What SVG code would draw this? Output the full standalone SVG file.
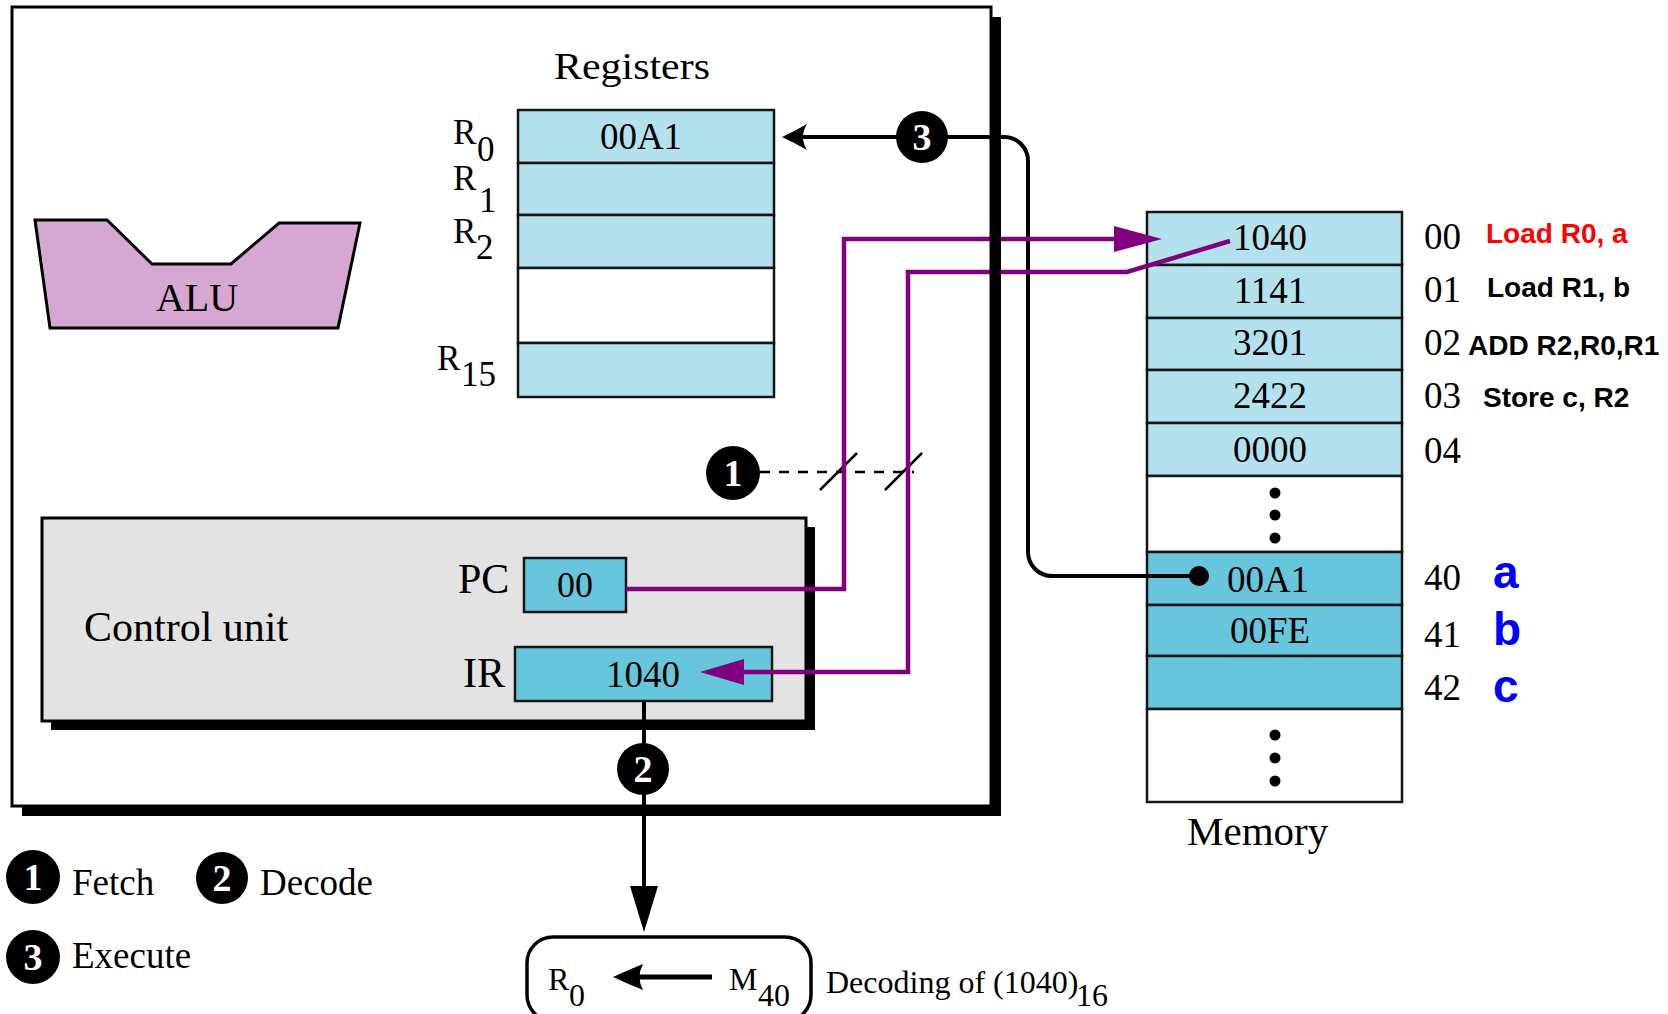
<svg xmlns="http://www.w3.org/2000/svg" width="1668" height="1014" viewBox="0 0 1668 1014">
<style>
.t{font-family:"Liberation Serif","Times New Roman",serif;fill:#000}
.b{font-family:"Liberation Sans",Arial,sans-serif;font-weight:bold}
.cell{stroke:#151515;stroke-width:2.5}
.lb{fill:#b3e2ee}
.db{fill:#68c6dc}
.wh{fill:#fff}
.pl{stroke:#800080;stroke-width:4.5;fill:none}
.blk{stroke:#000;fill:none}
.num{font-family:"Liberation Serif","Times New Roman",serif;font-weight:bold;font-size:38px;fill:#fff;text-anchor:middle}
.mid{text-anchor:middle}
</style>
<rect width="1668" height="1014" fill="#fff"/>

<g id="cpu">
  <rect x="22" y="17" width="979" height="799" fill="#000"/>
  <rect x="12" y="7" width="979" height="799" fill="#fff"/>
</g>

<g id="alu">
  <polygon points="35,220 107,220 152,264 231,264 279,223 360,223 338,328 50,328" fill="#d6a7d2" stroke="#000" stroke-width="3"/>
  <text class="t mid" x="197" y="311" font-size="40">ALU</text>
</g>

<g id="registers">
  <text class="t mid" x="632" y="79" font-size="38" textLength="156" lengthAdjust="spacingAndGlyphs">Registers</text>
  <rect class="cell lb" x="518" y="110" width="256" height="53"/>
  <rect class="cell lb" x="518" y="163" width="256" height="52"/>
  <rect class="cell lb" x="518" y="215" width="256" height="53"/>
  <rect class="cell wh" x="518" y="268" width="256" height="75"/>
  <rect class="cell lb" x="518" y="343" width="256" height="54"/>
  <text class="t mid" x="641" y="149" font-size="37">00A1</text>
  <g class="t" font-size="35">
    <text><tspan x="453" y="144">R</tspan><tspan x="477" y="161">0</tspan></text>
    <text><tspan x="453" y="190">R</tspan><tspan x="479" y="212">1</tspan></text>
    <text><tspan x="453" y="243">R</tspan><tspan x="476" y="259">2</tspan></text>
    <text><tspan x="437" y="370">R</tspan><tspan x="461" y="386">15</tspan></text>
  </g>
</g>

<g id="control-unit">
  <rect x="51" y="527" width="764" height="203" fill="#000"/>
  <rect x="42" y="518" width="764" height="203" fill="#e3e3e3" stroke="#000" stroke-width="3"/>
  <text class="t" x="84" y="641" font-size="42">Control unit</text>
  <g id="pc">
    <text class="t" x="458" y="593" font-size="42">PC</text>
    <rect class="cell db" x="524" y="558" width="102" height="54"/>
    <text class="t mid" x="575" y="597" font-size="36">00</text>
  </g>
  <g id="ir">
    <text class="t" x="463" y="687" font-size="42">IR</text>
    <rect class="cell db" x="515" y="647" width="257" height="54"/>
    <text class="t mid" x="643" y="687" font-size="37">1040</text>
  </g>
</g>

<g id="memory">
  <rect class="cell lb" x="1147" y="212" width="255" height="53"/>
  <rect class="cell lb" x="1147" y="265" width="255" height="53"/>
  <rect class="cell lb" x="1147" y="318" width="255" height="52"/>
  <rect class="cell lb" x="1147" y="370" width="255" height="53"/>
  <rect class="cell lb" x="1147" y="423" width="255" height="53"/>
  <rect class="cell wh" x="1147" y="476" width="255" height="76"/>
  <rect class="cell db" x="1147" y="552" width="255" height="53"/>
  <rect class="cell db" x="1147" y="605" width="255" height="51"/>
  <rect class="cell db" x="1147" y="656" width="255" height="53"/>
  <rect class="cell wh" x="1147" y="709" width="255" height="93"/>
  <g class="t mid" font-size="37">
    <text x="1270" y="250">1040</text>
    <text x="1270" y="303">1141</text>
    <text x="1270" y="355">3201</text>
    <text x="1270" y="408">2422</text>
    <text x="1270" y="462">0000</text>
    <text x="1268" y="592">00A1</text>
    <text x="1270" y="643">00FE</text>
  </g>
  <g fill="#000">
    <circle cx="1275" cy="493" r="5.5"/><circle cx="1275" cy="515" r="5.5"/><circle cx="1275" cy="538" r="5.5"/>
    <circle cx="1275" cy="735" r="5.5"/><circle cx="1275" cy="758" r="5.5"/><circle cx="1275" cy="781" r="5.5"/>
  </g>
  <g class="t" font-size="37">
    <text x="1424" y="249">00</text>
    <text x="1424" y="302">01</text>
    <text x="1424" y="355">02</text>
    <text x="1424" y="408">03</text>
    <text x="1424" y="463">04</text>
    <text x="1424" y="590">40</text>
    <text x="1424" y="647">41</text>
    <text x="1424" y="700">42</text>
  </g>
  <g class="b" font-size="28">
    <text x="1486" y="243" fill="#ff0000">Load R0, a</text>
    <text x="1487" y="297" fill="#000">Load R1, b</text>
    <text x="1468" y="355" fill="#000">ADD R2,R0,R1</text>
    <text x="1483" y="407" fill="#000">Store c, R2</text>
  </g>
  <g class="b" font-size="46" fill="#0000ff">
    <text x="1493" y="588">a</text>
    <text x="1493" y="645">b</text>
    <text x="1493" y="702">c</text>
  </g>
  <text class="t" x="1187" y="845" font-size="41">Memory</text>
</g>

<g id="connectors">
  <path class="blk" stroke-width="4" d="M1199,576 H1052 A24,24 0 0 1 1028,552 V161 A24,24 0 0 0 1004,137 H800"/>
  <path d="M782,137 Q795,131 807,124 Q799,137 807,150 Q795,143 782,137 Z" fill="#000"/>
  <circle cx="1199" cy="576" r="10" fill="#000"/>
  <path class="blk" stroke-width="2.5" stroke-dasharray="10 9" d="M760,472 H914"/>
  <path class="blk" stroke-width="2.5" d="M820,490 L857,453 M885,490 L922,453"/>
  <path class="pl" d="M626,589 H844 V239 H1118"/>
  <polygon points="1162,239 1114,226 1114,252" fill="#800080"/>
  <path class="pl" d="M1230,241 L1127,272 H908 V672 H740"/>
  <polygon points="700,672 744,659 744,685" fill="#800080"/>
  <path class="blk" stroke-width="4" d="M644,701 V890"/>
  <polygon points="630,886 658,886 644,932" fill="#000"/>
</g>

<g id="cpu-frame">
  <rect x="12" y="7" width="979" height="799" fill="none" stroke="#000" stroke-width="3"/>
  <rect x="991" y="17" width="10" height="799" fill="#000"/>
  <rect x="22" y="806" width="979" height="10" fill="#000"/>
</g>

<g id="step1">
  <circle cx="733" cy="473" r="27" fill="#000"/>
  <text class="num" x="733" y="486">1</text>
</g>
<g id="step2">
  <circle cx="643" cy="769" r="26" fill="#000"/>
  <text class="num" x="643" y="782">2</text>
</g>
<g id="step3">
  <circle cx="922" cy="137" r="26" fill="#000"/>
  <text class="num" x="922" y="150">3</text>
</g>

<g id="decode">
  <rect x="527" y="937" width="284" height="84" rx="26" fill="#fff" stroke="#000" stroke-width="3.5"/>
  <g class="t" font-size="32">
    <text><tspan x="548" y="990">R</tspan><tspan x="569" y="1006">0</tspan></text>
    <text><tspan x="729" y="990">M</tspan><tspan x="758" y="1006">40</tspan></text>
    <text><tspan x="826" y="993">Decoding of (1040)</tspan><tspan x="1076" y="1006">16</tspan></text>
  </g>
  <path class="blk" stroke-width="5" d="M636,977 H712"/>
  <path d="M613,977 Q628,970 643,964 Q636,977 643,990 Q628,984 613,977 Z" fill="#000"/>
</g>

<g id="legend">
  <circle cx="33" cy="877" r="27" fill="#000"/>
  <text class="num" x="33" y="890">1</text>
  <text class="t" x="72" y="895" font-size="37">Fetch</text>
  <circle cx="222" cy="878" r="26" fill="#000"/>
  <text class="num" x="222" y="891">2</text>
  <text class="t" x="260" y="895" font-size="37">Decode</text>
  <circle cx="33" cy="957" r="27" fill="#000"/>
  <text class="num" x="33" y="970">3</text>
  <text class="t" x="72" y="968" font-size="37">Execute</text>
</g>
</svg>
